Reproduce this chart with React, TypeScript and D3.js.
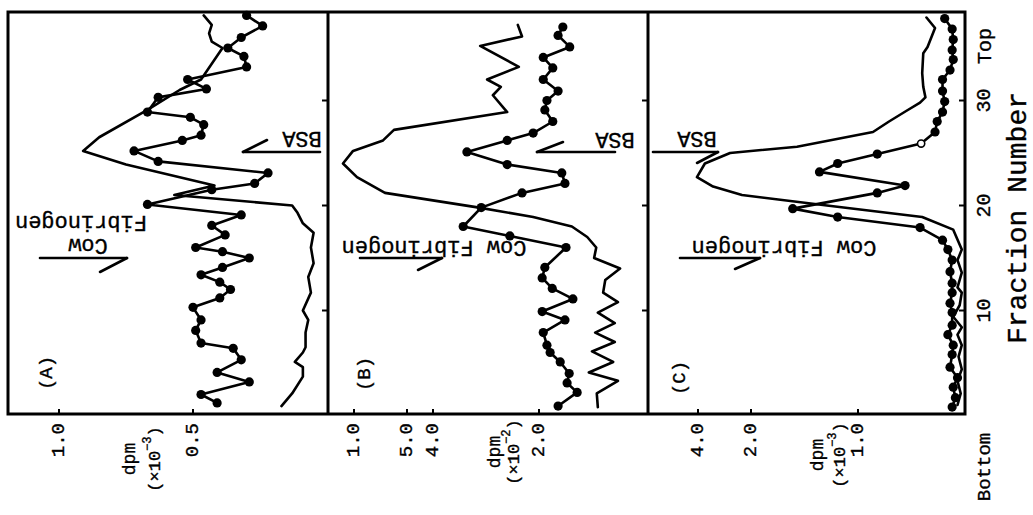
import React from "react";
import * as d3 from "d3";

// ---------- data (fraction number, dpm value) ----------
const fracTicks = [10, 20, 30];

const aTickVals = [1.0, 0.5];
const aTickLabels = ["1.0", "0.5"];
const bTickVals = [10, 5, 4, 2];
const bTickLabels = ["1.0", "5.0", "4.0", "2.0"];
const cTickVals = [4, 2, 1];
const cTickLabels = ["4.0", "2.0", "1.0"];

// Panel A
const aDotFrac = [1.2, 2.0, 3.2, 4.1, 5.3, 6.4, 6.9, 8.1, 9.1, 10.3, 11.2, 12.0, 12.7, 13.4, 14.1, 15.0, 15.6, 16.0, 17.2, 18.1, 19.1, 20.1, 21.5, 22.1, 23.1, 24.2, 25.2, 26.2, 26.7, 27.7, 28.4, 28.9, 30.3, 31.1, 32.0, 33.2, 34.2, 35.0, 36.0, 37.1, 38.1];
const aDotVal = [0.41, 0.47, 0.29, 0.41, 0.32, 0.35, 0.47, 0.49, 0.47, 0.50, 0.40, 0.36, 0.40, 0.47, 0.39, 0.29, 0.39, 0.49, 0.38, 0.43, 0.32, 0.67, 0.43, 0.27, 0.22, 0.63, 0.72, 0.54, 0.47, 0.46, 0.51, 0.67, 0.63, 0.45, 0.52, 0.30, 0.31, 0.37, 0.32, 0.24, 0.30];
const aLineFrac = [0.9, 2.1, 3.7, 4.6, 5.1, 6.0, 6.5, 7.9, 9.1, 10.0, 11.7, 13.2, 14.5, 16.0, 17.4, 18.3, 19.3, 20.0, 21.0, 21.9, 23.9, 25.2, 26.5, 29.1, 31.0, 32.0, 35.0, 35.6, 36.4, 37.2, 38.1];
const aLineVal = [0.17, 0.13, 0.09, 0.09, 0.12, 0.09, 0.08, 0.08, 0.07, 0.09, 0.06, 0.07, 0.05, 0.06, 0.05, 0.09, 0.11, 0.13, 0.57, 0.42, 0.75, 0.91, 0.85, 0.67, 0.55, 0.47, 0.39, 0.43, 0.44, 0.43, 0.46];

// Panel B
const bDotFrac = [0.9, 2.2, 3.1, 4.0, 5.1, 6.0, 6.7, 7.9, 9.1, 9.9, 11.1, 12.1, 13.1, 14.1, 16.0, 17.1, 18.0, 19.8, 21.2, 22.1, 23.1, 23.9, 25.1, 26.2, 26.9, 28.0, 29.1, 30.0, 30.9, 32.0, 33.1, 34.1, 35.1, 36.2, 37.0];
const bDotVal = [1.64, 1.28, 1.47, 1.43, 1.60, 1.79, 1.85, 1.92, 1.51, 1.94, 1.36, 1.75, 1.94, 1.89, 1.49, 2.55, 3.43, 3.09, 2.32, 1.51, 1.57, 2.60, 3.36, 2.60, 2.11, 1.74, 1.89, 1.85, 1.64, 1.92, 1.74, 1.92, 1.42, 1.64, 1.55];
const bLineFrac = [0.8, 2.1, 3.3, 4.1, 5.1, 6.1, 7.0, 7.9, 8.8, 9.8, 10.8, 11.7, 12.9, 14.0, 15.0, 16.0, 17.0, 18.0, 18.9, 19.8, 21.2, 22.7, 24.0, 25.2, 26.2, 27.2, 28.9, 30.5, 31.3, 32.0, 33.2, 35.2, 36.1, 37.2];
const bLineVal = [0.89, 0.91, 0.51, 1.06, 0.60, 1.00, 0.57, 0.94, 0.57, 0.89, 0.51, 0.79, 0.75, 0.47, 0.96, 0.92, 1.09, 1.38, 2.11, 3.13, 7.08, 9.72, 11.04, 10.09, 7.26, 6.23, 2.60, 2.87, 2.72, 2.98, 2.38, 3.11, 2.32, 2.40];

// Panel C
const cDotFrac = [0.8, 1.7, 2.7, 3.6, 4.6, 5.8, 6.7, 7.7, 8.6, 9.8, 10.7, 11.7, 12.6, 13.7, 14.8, 15.8, 16.7, 17.9, 18.9, 19.7, 21.2, 21.9, 23.2, 24.0, 24.9, 25.9, 27.0, 28.0, 28.9, 29.9, 30.9, 32.0, 32.9, 33.9, 34.8, 35.8, 36.8, 37.8];
const cDotVal = [0.12, 0.09, 0.11, 0.07, 0.14, 0.12, 0.11, 0.16, 0.12, 0.12, 0.14, 0.12, 0.12, 0.14, 0.12, 0.16, 0.21, 0.42, 1.19, 1.61, 0.82, 0.56, 1.36, 1.19, 0.82, 0.41, 0.28, 0.26, 0.21, 0.19, 0.21, 0.21, 0.14, 0.11, 0.12, 0.11, 0.12, 0.19];
const cOpenFrac = [25.9];
const cLineFrac = [1.0, 2.1, 3.3, 4.4, 5.6, 6.7, 7.7, 8.4, 9.4, 10.5, 11.7, 12.2, 13.6, 14.8, 15.8, 17.7, 18.9, 20.0, 21.0, 21.8, 22.7, 24.0, 25.0, 25.6, 27.0, 28.0, 29.0, 29.8, 30.3, 31.3, 32.6, 34.5, 35.1, 36.9, 37.9];
const cLineVal = [0.07, 0.04, 0.07, 0.03, 0.06, 0.03, 0.07, 0.03, 0.11, 0.05, 0.03, 0.07, 0.03, 0.07, 0.03, 0.11, 0.40, 1.29, 2.34, 3.43, 4.04, 3.74, 2.79, 1.57, 0.86, 0.71, 0.55, 0.42, 0.37, 0.39, 0.40, 0.39, 0.35, 0.28, 0.36];

// ---------- layout ----------
const W = 1033;
const H = 515;
const TOP = 12;
const BOTTOM = 414;
const LEFT = 8;
const RIGHT = 965;
const DIV1 = 328;
const DIV2 = 648;
const MONO = "'Liberation Mono', 'DejaVu Sans Mono', monospace";

const yScale = d3.scaleLinear().domain([10, 30]).range([310.5, 100.5]);
const aX = d3.scaleLinear().domain([0, 1]).range([327, 59]);
const bX = d3.scaleLinear().domain([0, 2, 4, 5, 10]).range([645, 539, 433, 407, 354]);
const cX = d3.scaleLinear().domain([0, 1, 2, 4]).range([965, 858, 751, 698]);

type Pt = { f: number; v: number };
const zip = (fs: number[], vs: number[]): Pt[] => fs.map((f, i) => ({ f, v: vs[i] }));

function Series({ x, lineF, lineV, dotF, dotV, openF = [] }: any) {
  const gen = d3
    .line<Pt>()
    .x((d) => x(d.v))
    .y((d) => yScale(d.f));
  const solid = zip(lineF, lineV);
  const dots = zip(dotF, dotV);
  return (
    <g>
      <path d={gen(solid) || ""} fill="none" stroke="#000" strokeWidth={2.6} strokeLinejoin="round" strokeLinecap="round" />
      <path d={gen(dots) || ""} fill="none" stroke="#000" strokeWidth={2.6} strokeLinejoin="round" />
      {dots.map((d, i) => {
        const open = openF.includes(d.f);
        return (
          <circle
            key={i}
            cx={x(d.v)}
            cy={yScale(d.f)}
            r={open ? 3.6 : 4.6}
            fill={open ? "#fff" : "#000"}
            stroke="#000"
            strokeWidth={open ? 1.6 : 0}
          />
        );
      })}
    </g>
  );
}

const textStroke = { stroke: "#000", strokeWidth: 0.35 };

function VText({ x, y, children, size = 18, anchor = "middle" }: any) {
  return (
    <text
      transform={`translate(${x},${y}) rotate(-90)`}
      textAnchor={anchor}
      dominantBaseline="central"
      fontFamily={MONO}
      fontSize={size}
      fill="#000"
      {...textStroke}
    >
      {children}
    </text>
  );
}

function UText({ x, y, children, size = 22 }: any) {
  return (
    <text
      transform={`translate(${x},${y}) rotate(180)`}
      textAnchor="middle"
      dominantBaseline="central"
      fontFamily={MONO}
      fontSize={size}
      fill="#000"
      {...textStroke}
    >
      {children}
    </text>
  );
}

function DpmLabel({ x1, x2, y, exp }: any) {
  return (
    <g>
      <VText x={x1} y={y} size={18}>dpm</VText>
      <text
        transform={`translate(${x2},${y}) rotate(-90)`}
        textAnchor="middle"
        dominantBaseline="central"
        fontFamily={MONO}
        fontSize={17}
        fill="#000"
        {...textStroke}
      >
        (×10
        <tspan fontSize={12} dy={-7}>{"−" + exp}</tspan>
        <tspan dy={7}>)</tspan>
      </text>
    </g>
  );
}

function Arrow({ x1, x2, y, bx, by, fromLeft }: any) {
  const hx = fromLeft ? x1 : x2;
  return (
    <g stroke="#000" strokeWidth={2.6} fill="none" strokeLinecap="round">
      <line x1={x1} y1={y} x2={x2} y2={y} />
      <line x1={hx} y1={y} x2={bx} y2={by} />
    </g>
  );
}

export default function App() {
  const panels = [
    { x: aX, vals: aTickVals, labels: aTickLabels },
    { x: bX, vals: bTickVals, labels: bTickLabels },
    { x: cX, vals: cTickVals, labels: cTickLabels },
  ];
  const edges = [DIV1, DIV2, RIGHT];
  return (
    <svg width={W} height={H} style={{ position: "absolute", left: 0, top: 0, background: "#fff" }}>
      <rect x={0} y={0} width={W} height={H} fill="#fff" />
      {/* frame */}
      <rect x={LEFT} y={TOP} width={RIGHT - LEFT} height={BOTTOM - TOP} fill="none" stroke="#000" strokeWidth={3} />
      <line x1={DIV1} y1={TOP} x2={DIV1} y2={BOTTOM} stroke="#000" strokeWidth={3} />
      <line x1={DIV2} y1={TOP} x2={DIV2} y2={BOTTOM} stroke="#000" strokeWidth={3} />

      {/* fraction ticks on each panel's right edge */}
      {edges.map((ex, i) =>
        fracTicks.map((f) => (
          <line key={`${i}-${f}`} x1={ex - 6} y1={yScale(f)} x2={ex} y2={yScale(f)} stroke="#000" strokeWidth={2} />
        ))
      )}

      {/* value ticks + labels */}
      {panels.map((p, i) => (
        <g key={i}>
          {p.vals.map((v: number, j: number) => (
            <g key={j}>
              <line x1={p.x(v)} y1={BOTTOM - 5} x2={p.x(v)} y2={BOTTOM} stroke="#000" strokeWidth={2} />
              <VText x={p.x(v)} y={423} size={19} anchor="end">{p.labels[j]}</VText>
            </g>
          ))}
        </g>
      ))}

      <DpmLabel x1={130} x2={155} y={459} exp="3" />
      <DpmLabel x1={495} x2={514} y={452} exp="2" />
      <DpmLabel x1={818} x2={840} y={455} exp="3" />

      {/* series */}
      <Series x={aX} lineF={aLineFrac} lineV={aLineVal} dotF={aDotFrac} dotV={aDotVal} />
      <Series x={bX} lineF={bLineFrac} lineV={bLineVal} dotF={bDotFrac} dotV={bDotVal} />
      <Series x={cX} lineF={cLineFrac} lineV={cLineVal} dotF={cDotFrac} dotV={cDotVal} openF={cOpenFrac} />

      {/* panel letters */}
      <VText x={47} y={373} size={19}>(A)</VText>
      <VText x={365} y={374} size={19}>(B)</VText>
      <VText x={680} y={378} size={19}>(C)</VText>

      {/* annotations (upside down) */}
      <UText x={88} y={244}>Cow</UText>
      <UText x={81} y={221}>Fibrinogen</UText>
      <Arrow x1={40} x2={127} y={258} bx={100} by={272} fromLeft={false} />
      <UText x={302} y={137}>BSA</UText>
      <Arrow x1={243} x2={320} y={152} bx={267} by={140} fromLeft={true} />

      <UText x={434} y={246}>Cow Fibrinogen</UText>
      <Arrow x1={360} x2={442} y={258} bx={418} by={270} fromLeft={false} />
      <UText x={615} y={138}>BSA</UText>
      <Arrow x1={537} x2={615} y={152} bx={563} by={142} fromLeft={true} />

      <UText x={784} y={246}>Cow Fibrinogen</UText>
      <Arrow x1={680} x2={760} y={258} bx={735} by={269} fromLeft={false} />
      <UText x={697} y={137}>BSA</UText>
      <Arrow x1={653} x2={718} y={152} bx={697} by={163} fromLeft={false} />

      {/* fraction axis */}
      {fracTicks.map((f) => (
        <VText key={f} x={984} y={yScale(f)} size={20}>{String(f)}</VText>
      ))}
      <VText x={985} y={46} size={20}>Top</VText>
      <VText x={985} y={467} size={19}>Bottom</VText>
      <VText x={1018} y={218} size={28}>Fraction Number</VText>
    </svg>
  );
}
